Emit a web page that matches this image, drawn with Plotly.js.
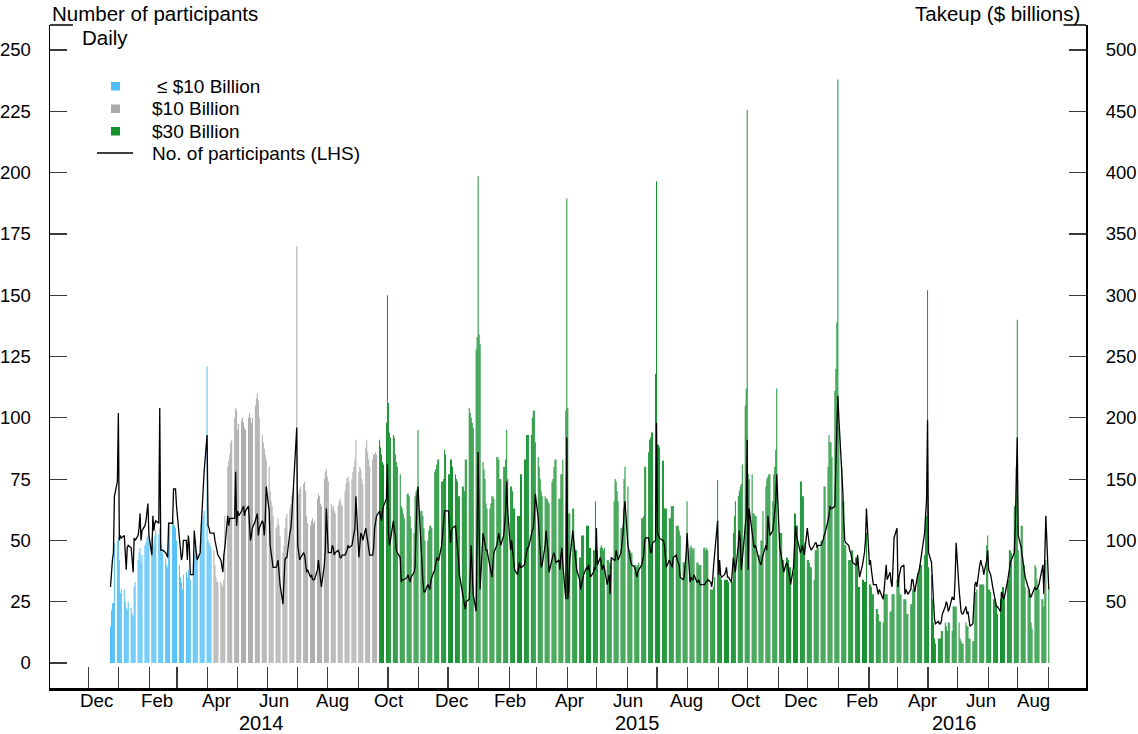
<!DOCTYPE html>
<html>
<head>
<meta charset="utf-8">
<script src="https://cdn.plot.ly/plotly-3.0.1.min.js"></script>
<style>
  html, body { margin: 0; padding: 0; background: #fff; }
  #chart { width: 1138px; height: 734px; }
</style>
</head>
<body>
<div id="chart"></div>
<script>
// Overnight RRP facility: daily takeup ($ billions) by per-counterparty cap,
// and the daily number of participants. One value per business day, Mon–Fri,
// starting Monday 23 Dec 2013.
const firstDay = '2013-12-23';

// Takeup while the individual cap was at or below $10 billion
const takeupCapUpTo10 = [
  30, 43, 49, 49, 98,   100, 103, 84, 57, 60,   60, 50, 45, 43, 50,
  45, 40, 38, 62, 66,   84, 90, 94, 82, 88,     96, 98, 102, 104, 100,
  103, 100, 96, 104, 108, 105, 110, 100, 96, 90, 85, 80, 78, 112, 112,
  114, 116, 112, 110, 100, 80, 70, 66, 60, 72,  74, 70, 76, 72, 68,
  80, 88, 96, 92, 90,   96, 106, 116, 120, 124, 242, 100, 98, 96, 94
];

// Takeup with a $10 billion cap
const takeupCap10 = [
  92, 80, 70, 66, 66,     66, 64, 62, 68, 120,    160, 165, 170, 180, 182,
  200, 208, 206, 190, 195, 198, 200, 196, 192, 190, 200, 204, 200, 196, 200,
  210, 216, 220, 214, 200, 186, 180, 175, 170, 166, 160, 140, 132, 128, 120,
  110, 112, 118, 112, 104, 90, 96, 110, 118, 122,  126, 130, 136, 140, 144,
  340, 140, 138, 142, 144, 146, 148, 140, 120, 114, 112, 116, 118, 114, 116,
  134, 138, 136, 130, 128, 150, 156, 158, 152, 148, 130, 126, 128, 124, 122,
  128, 132, 134, 130, 128, 140, 146, 150, 152, 148, 150, 156, 160, 166, 182,
  156, 160, 158, 150, 146, 176, 182, 172, 166, 160, 166, 170, 170, 172, 170
];

// Takeup with a $30 billion cap
const takeupCap30 = [
  182, 176, 170, 164, 162, 196, 300, 212, 188, 184, 186, 184, 170, 164, 160,
  154, 128, 126, 122, 118, 138, 138, 136, 120, 110, 106, 136, 140, 142, 190,
  124, 124, 120, 110, 100, 100, 108, 112, 112, 110, 156, 158, 162, 166, 166,
  148, 148, 150, 174, 170, 154, 154, 166, 166, 160, 154, 150, 148, 136, 136,
  144, 144, 140, 166, 166, 208, 204, 200, 196, 192, 256, 266, 397, 268, 260,
  164, 158, 150, 130, 126, 126, 130, 136, 136, 134, 168, 168, 166, 150, 150,
  160, 160, 166, 190, 150, 144, 144, 140, 126, 126, 120, 120, 120, 154, 154,
  166, 166, 186, 186, 186, 186, 200, 206, 206, 180, 168, 160, 150, 140, 136,
  136, 134, 134, 132, 130, 148, 150, 160, 166, 166, 134, 134, 154, 154, 166,
  206, 379, 208, 122, 122, 126, 126, 92, 92, 92,    86, 86, 104, 104, 104,
  112, 112, 112, 94, 94,   92, 92, 132, 92, 92,     94, 96, 94, 92, 94,
  84, 84, 82, 80, 84,      132, 150, 148, 140, 132, 110, 110, 112, 150, 160,
  144, 92, 92, 90, 90,     80, 80, 78, 80, 82,      118, 118, 120, 160, 160,
  172, 182, 184, 188, 188, 236, 393, 178, 178, 176, 165, 165, 126, 126, 126,
  118, 118, 128, 128, 128, 112, 112, 112, 108, 104, 82, 82, 80, 90, 132,
  94, 96, 94, 92, 94,      82, 82, 80, 80, 80,      94, 94, 92, 94, 92,
  60, 60, 60, 62, 70,      149, 78, 78, 70, 68,     68, 68, 68, 68, 66,
  66, 66, 106, 120, 132,   136, 140, 144, 146, 162, 210, 224, 451, 154, 150,
  154, 122, 122, 120, 120, 88, 88, 100, 100, 124,   144, 150, 152, 154, 154,
  132, 154, 160, 174, 224, 106, 106, 106, 84, 84,   86, 86, 84, 78, 78,
  74, 122, 122, 112, 112,  148, 148, 136, 136, 98,  84, 84, 82, 78, 78,
  68, 92, 92, 94, 94,      100, 100, 100, 144, 144, 160, 186, 180, 180, 168,
  222, 240, 278, 476, 192, 160, 132, 132, 96, 96,   84, 84, 84, 92, 92,
  86, 86, 86, 62, 62,      68, 68, 66, 66, 106,     64, 64, 62, 56, 56,
  44, 44, 40, 34, 34,      33, 56, 56, 56, 56,      42, 42, 56, 56, 56,
  68, 68, 68, 56, 56,      52, 52, 52, 40, 40,      48, 48, 60, 60, 60,
  73, 73, 80, 80, 80,      88, 120, 120, 304, 78,   72, 52, 33, 20, 16,
  20, 20, 20, 26, 26,      33, 30, 26, 33, 33,      26, 46, 46, 46, 46,
  33, 20, 18, 16, 16,      33, 30, 30, 20, 20,      18, 18, 58, 58, 60,
  64, 64, 64, 64, 64,      96, 104, 60, 60, 58,     52, 52, 52, 46, 40,
  52, 52, 62, 62, 56,      68, 68, 92, 92, 90,      128, 128, 160, 280, 92,
  112, 112, 80, 80, 62,    60, 56, 56, 33, 28,      80, 78, 68, 64, 60,
  52, 52, 46, 56, 84,      60
];

// Number of participants (left-hand scale)
const participants = [
  31, 38, 42, 45, 68,   74, 102, 50, 52, 51,  52, 45, 38, 47, 48,  47, 42, 37, 51, 50,
  52, 55, 61, 50, 54,   56, 58, 62, 65, 52,   44, 60, 54, 57, 58,  57, 104, 46, 46, 46,
  45, 44, 43, 57, 57,   57, 71, 71, 71, 64,   50, 48, 42, 44, 50,  50, 42, 52, 48, 36,
  36, 54, 48, 45, 42,   45, 55, 64, 70, 78,   93, 56, 55, 53, 53,  53, 50, 48, 45, 44,
  42, 39, 37, 44, 47,   60, 56, 59, 59, 59,   59, 78, 56, 62, 60,  62, 63, 64, 60, 62,
  64, 58, 50, 52, 55,   58, 60, 61, 52, 55,   58, 57, 52, 58, 72,  62, 48, 44, 40, 39,
  39, 40, 42, 36, 32,   24, 36, 42, 43, 43,   53, 55, 60, 67, 71,  96, 48, 45, 42, 43,
  45, 44, 40, 37, 38,   35, 36, 34, 34, 34,   38, 42, 38, 33, 31,  40, 47, 63, 52, 45,
  45, 48, 47, 44, 45,   46, 45, 43, 43, 44,   44, 45, 46, 48, 47,  48, 50, 52, 55, 68,
  43, 48, 53, 52, 50,   55, 52, 48, 47, 44,   44, 47, 55, 58, 60,  62, 60, 58, 62, 64,
  67, 81, 53, 48, 50,   58, 54, 52, 46, 45,   43, 33, 34, 34, 34,  35, 36, 34, 33, 35,
  37, 39, 55, 67, 72,   47, 39, 33, 29, 29,   32, 31, 30, 33, 35,  38, 40, 43, 42, 42,
  48, 52, 57, 62, 62,   62, 55, 49, 54, 55,   56, 52, 48, 43, 36,  29, 28, 26, 22, 25,
  26, 36, 48, 38, 28,   21, 45, 86, 55, 30,   53, 50, 47, 46, 46,  40, 38, 35, 40, 45,
  48, 50, 53, 50, 48,   52, 56, 62, 74, 62,   46, 50, 46, 42, 38,  36, 40, 41, 39, 39,
  40, 43, 46, 47, 47,   53, 54, 55, 60, 69,   59, 52, 45, 39, 40,  48, 54, 50, 45, 37,
  43, 44, 45, 42, 41,   42, 38, 44, 47, 40,   26, 92, 26, 30, 42,  54, 50, 45, 40, 38,
  34, 30, 32, 35, 36,   39, 38, 40, 37, 35,   37, 39, 38, 55, 40,  43, 40, 38, 40, 39,
  32, 35, 36, 28, 43,   42, 42, 46, 44, 42,   45, 50, 53, 62, 66,  48, 45, 43, 41, 40,
  39, 37, 35, 37, 38,   40, 42, 44, 50, 51,   51, 48, 45, 45, 49,  50, 98, 53, 52, 51,
  50, 50, 48, 44, 39,   42, 41, 40, 39, 43,   44, 42, 41, 40, 35,  34, 35, 39, 44, 53,
  33, 35, 34, 34, 36,   33, 33, 34, 32, 32,   32, 32, 33, 33, 34,  33, 31, 34, 40, 45,
  58, 36, 42, 36, 35,   36, 37, 39, 35, 35,   33, 38, 43, 40, 37,  48, 54, 50, 38, 42,
  54, 60, 91, 38, 63,   54, 49, 47, 48, 47,   42, 41, 40, 42, 44,  48, 46, 60, 56, 52,
  54, 59, 63, 66, 77,   47, 45, 43, 40, 37,   41, 40, 38, 35, 32,  39, 48, 56, 52, 50,
  45, 46, 48, 46, 44,   55, 50, 48, 47, 46,   48, 49, 49, 47, 48,  48, 49, 50, 52, 53,
  58, 60, 64, 63, 63,   64, 82, 96, 109, 100, 80, 70, 58, 50, 49,  48, 46, 45, 43, 41,
  40, 40, 44, 40, 35,   40, 42, 45, 50, 63,   40, 42, 38, 34, 32,  32, 30, 28, 30, 29,
  26, 30, 34, 40, 34,   37, 33, 31, 40, 51,   55, 31, 35, 38, 39,  40, 28, 30, 29, 28,
  30, 34, 34, 32, 29,   36, 37, 39, 42, 45,   53, 60, 67, 99, 45,  41, 33, 24, 18, 16,
  17, 16, 16, 17, 20,   23, 25, 24, 21, 22,   27, 26, 26, 35, 49,  30, 24, 21, 20, 20,
  23, 20, 21, 17, 15,   16, 26, 32, 33, 31,   40, 42, 40, 39, 36,  42, 46, 38, 37, 36,
  29, 27, 24, 23, 23,   21, 29, 28, 26, 27,   33, 35, 38, 41, 42,  45, 56, 70, 92, 52,
  47, 44, 40, 37, 35,   31, 30, 27, 27, 28,   31, 30, 30, 31, 32,  38, 40, 28, 44, 60,
  30
];

const seriesNames = ['≤ $10 Billion', '$10 Billion', '$30 Billion', 'No. of participants (LHS)'];
const monthLabels = ['Dec', 'Feb', 'Apr', 'Jun', 'Aug', 'Oct', 'Dec', 'Feb', 'Apr',
                     'Jun', 'Aug', 'Oct', 'Dec', 'Feb', 'Apr', 'Jun', 'Aug'];
const yearLabels = ['2014', '2015', '2016'];
const leftTicks = [0, 25, 50, 75, 100, 125, 150, 175, 200, 225, 250];
const rightTicks = [50, 100, 150, 200, 250, 300, 350, 400, 450, 500];

// ---- layout geometry (pixels) ----
const W = 1138, H = 734;
const M = { l: 50, r: 52, t: 25, b: 46 };
const plotW = W - M.l - M.r;
const plotH = H - M.t - M.b;
const px = x => (x - M.l) / plotW;
const py = y => (H - M.b - y) / plotH;

const monthLabelPx = [96.7, 156.7, 216.7, 273.8, 332.7, 389, 451, 510, 569,
                      628, 686, 746, 800.8, 861.7, 922.7, 980.5, 1033.3];
const yearLabelPx = [261, 637, 954.3];

const FONT = '"Liberation Sans", Arial, Helvetica, sans-serif';
const COLORS = { blue: '#4EBFF6', gray: '#ABABAB', green: '#14902E', line: '#000000' };

// Weekday calendar starting at firstDay (bars centred at midday)
function businessDays(startIso, count) {
  const out = [];
  const d = new Date(startIso + 'T12:00:00Z');
  while (out.length < count) {
    const wd = d.getUTCDay();
    if (wd !== 0 && wd !== 6) out.push(d.toISOString().slice(0, 10) + ' 12:00');
    d.setUTCDate(d.getUTCDate() + 1);
  }
  return out;
}

// Month-start tick positions, Dec 2013 .. Aug 2016
function monthStarts(y0, m0, y1, m1) {
  const out = [];
  let y = y0, m = m0;
  while (y < y1 || (y === y1 && m <= m1)) {
    out.push(y + '-' + String(m).padStart(2, '0') + '-01');
    m++; if (m > 12) { m = 1; y++; }
  }
  return out;
}

const nBlue = takeupCapUpTo10.length;
const nGray = takeupCap10.length;
const nGreen = takeupCap30.length;
const dates = businessDays(firstDay, nBlue + nGray + nGreen);
const DAY = 86400000;

function barTrace(name, xs, ys, color) {
  return {
    type: 'bar', name: name, x: xs, y: ys, yaxis: 'y',
    width: xs.map(() => DAY),
    marker: { color: color, line: { width: 0 } },
    hoverinfo: 'skip', showlegend: false
  };
}

const traces = [
  barTrace(seriesNames[0], dates.slice(0, nBlue), takeupCapUpTo10, COLORS.blue),
  barTrace(seriesNames[1], dates.slice(nBlue, nBlue + nGray), takeupCap10, COLORS.gray),
  barTrace(seriesNames[2], dates.slice(nBlue + nGray), takeupCap30, COLORS.green),
  {
    type: 'scatter', mode: 'lines', name: seriesNames[3],
    x: dates, y: participants, yaxis: 'y2',
    line: { color: COLORS.line, width: 1.3 },
    hoverinfo: 'skip', showlegend: false
  }
];

const tickStyle = { ticks: 'inside', ticklen: 17, tickwidth: 1.2, tickcolor: '#3a3a3a' };

const annotations = [];
function label(text, x, y, size, xanchor) {
  annotations.push({
    xref: 'paper', yref: 'paper', x: px(x), y: py(y), text: text,
    showarrow: false, xanchor: xanchor || 'center', yanchor: 'middle',
    font: { family: FONT, size: size, color: '#000' }
  });
}
monthLabels.forEach((t, i) => label(t, monthLabelPx[i], 700.5, 18.7));
yearLabels.forEach((t, i) => label(t, yearLabelPx[i], 723, 20));
label('Number of participants', 50, 13, 20.5, 'left');
label('Takeup ($ billions)', 1082, 13, 20.5, 'right');
label('Daily', 80, 37.5, 20.5, 'left');

// Legend
const legendRows = [86, 108.5, 131, 153];
const legendColors = [COLORS.blue, COLORS.gray, COLORS.green];
const shapes = [];
legendColors.forEach((c, i) => {
  shapes.push({
    type: 'rect', xref: 'paper', yref: 'paper',
    x0: px(111), x1: px(120), y0: py(legendRows[i] - 4), y1: py(legendRows[i] + 4.5),
    fillcolor: c, line: { width: 0 }
  });
});
shapes.push({
  type: 'line', xref: 'paper', yref: 'paper',
  x0: px(97), x1: px(133), y0: py(legendRows[3]), y1: py(legendRows[3]),
  line: { color: '#000', width: 1.5 }
});
label(seriesNames[0], 155, legendRows[0], 19, 'left');
label(seriesNames[1], 150, legendRows[1], 19, 'left');
label(seriesNames[2], 150, legendRows[2], 19, 'left');
label(seriesNames[3], 150, legendRows[3], 19, 'left');

// Short caps at the top of both vertical axes
shapes.push({ type: 'line', xref: 'paper', yref: 'paper', x0: 0, x1: px(73), y0: 1, y1: 1,
              line: { color: '#000', width: 1.5 } });
shapes.push({ type: 'line', xref: 'paper', yref: 'paper', x0: px(1063.5), x1: 1, y0: 1, y1: 1,
              line: { color: '#000', width: 1.5 } });

const ticksX = monthStarts(2013, 12, 2016, 8);

const layout = {
  width: W, height: H,
  margin: { l: M.l, r: M.r, t: M.t, b: M.b, pad: 0 },
  paper_bgcolor: '#fff', plot_bgcolor: '#fff',
  font: { family: FONT, size: 18.5, color: '#000' },
  showlegend: false,
  barmode: 'overlay',
  xaxis: {
    type: 'date',
    range: ['2013-10-23 03:20', '2016-09-08 06:00'],
    tickmode: 'array', tickvals: ticksX, ticktext: ticksX.map(() => ''),
    showticklabels: false,
    ticks: 'inside', ticklen: 21, tickwidth: 1.2, tickcolor: '#3a3a3a',
    showline: true, linecolor: '#000', linewidth: 2.5,
    showgrid: false, zeroline: false, fixedrange: true
  },
  yaxis: Object.assign({
    side: 'right',
    range: [-20.4, 520.4],
    tickmode: 'array', tickvals: rightTicks, ticktext: rightTicks.map(String),
    ticklabelstandoff: 14,
    tickfont: { family: FONT, size: 18.5, color: '#000' },
    showline: true, linecolor: '#000', linewidth: 2,
    showgrid: false, zeroline: false, fixedrange: true
  }, tickStyle),
  yaxis2: Object.assign({
    overlaying: 'y', side: 'left',
    range: [-10.2, 260.2],
    tickmode: 'array', tickvals: leftTicks, ticktext: leftTicks.map(String),
    ticklabelstandoff: 14,
    tickfont: { family: FONT, size: 18.5, color: '#000' },
    showline: true, linecolor: '#000', linewidth: 1.5,
    showgrid: false, zeroline: false, fixedrange: true
  }, tickStyle),
  annotations: annotations,
  shapes: shapes
};

Plotly.newPlot('chart', traces, layout, { staticPlot: true, displayModeBar: false });
</script>
</body>
</html>
